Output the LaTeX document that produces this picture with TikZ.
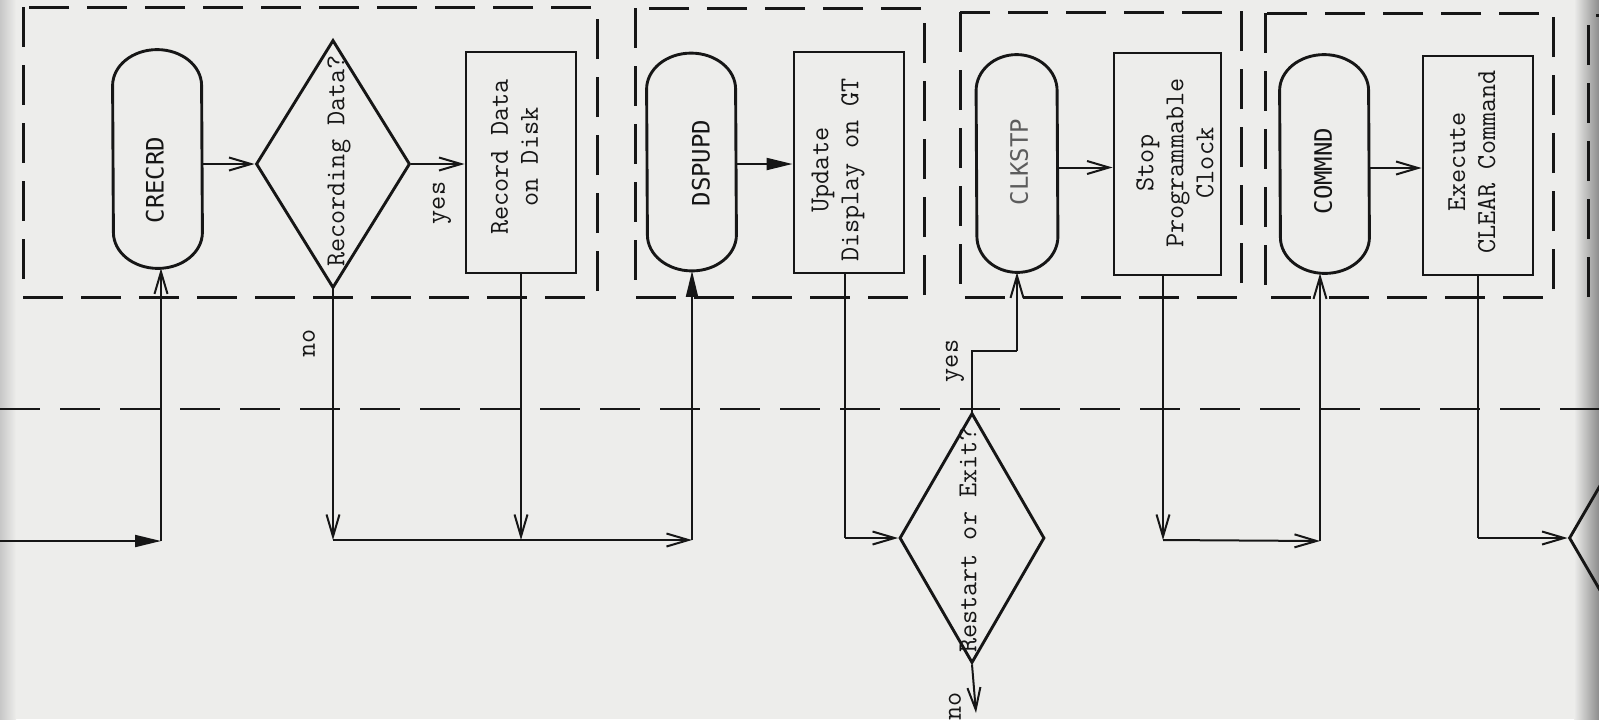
\documentclass[tikz,border=0pt]{standalone}
\usepackage{fontspec}
\newfontfamily\gothic{DejaVu Sans Mono}
\newcommand\typew{\ttfamily\addfontfeatures{FakeBold=1.6}}
\usetikzlibrary{shapes.geometric,arrows.meta,calc}
\definecolor{paper}{RGB}{237,237,235}
\definecolor{ink}{RGB}{22,22,22}
\newcommand\stadiumpath[2]{%
  \draw[shapeline] ($(#1.north west)+(0,-36)$) arc[start angle=180,end angle=0,x radius=#2,y radius=18pt]
    -- ($(#1.south east)+(0,36)$) arc[start angle=0,end angle=-180,x radius=#2,y radius=18pt] -- cycle;}
\begin{document}
\begin{tikzpicture}[x=0.5pt,y=0.5pt,
  shapeline/.style={draw=ink,line width=1.45pt},
  procbox/.style={rectangle,draw=ink,line width=1.45pt,inner sep=0pt},
  stadiumbox/.style={rectangle,draw=none,inner sep=0pt},
  decision/.style={diamond,draw=ink,line width=1.45pt,inner sep=0pt},
  dashbox/.style={draw=ink,line width=1.5pt,dash pattern=on 20pt off 9pt},
  sepline/.style={draw=ink,line width=1pt,dash pattern=on 20pt off 10pt},
  conn/.style={draw=ink,line width=1pt},
  openarrow/.style={conn,-{Straight Barb[length=11pt,width=6.5pt,line width=1pt]}},
  fillarrow/.style={conn,-{Triangle[length=13pt,width=6pt]}},
  desc/.style={font=\typew\fontsize{13.7}{15}\selectfont,align=center,rotate=90,inner sep=0pt,text=ink},
  subname/.style={font=\gothic\fontsize{12}{15}\selectfont,rotate=90,inner sep=0pt,text=ink},
  lbl/.style={font=\typew\fontsize{13.7}{15}\selectfont,rotate=90,inner sep=0pt,text=ink}]
\useasboundingbox (0,0) rectangle (1599,-719);
\fill[paper] (0,0) rectangle (1599,-719);
\shade[left color=black!22,right color=paper] (0,0) rectangle (16,-719);
\shade[left color=paper,right color=black!45] (1574,0) rectangle (1599,-719);

% dashed module frames
\draw[dashbox] (23,-7) rectangle (597,-297);
\draw[dashbox] (635,-8) rectangle (924,-297);
\draw[dashbox] (960,-12) rectangle (1241,-297);
\draw[dashbox] (1265,-13) rectangle (1553,-297);
\begin{scope}
\clip (0,0) rectangle (1599,-719);
\draw[dashbox] (1588,-297) -- (1588,-15) -- (1620,-15);
\end{scope}
% separating line
\draw[sepline] (0,-409) -- (1599,-409);

% nodes
\node[stadiumbox,minimum width=44.5pt,minimum height=109pt] (crecrd) at (157.5,-159) {};
\stadiumpath{crecrd}{22.25pt}
\node[subname] at (155,-180) {CRECRD};

\node[decision,minimum width=77pt,minimum height=124pt] (d1) at (333,-164) {};
\node[lbl] at (339,-161) {Recording Data?};

\node[procbox,minimum width=55pt,minimum height=110.5pt] (record) at (521,-162.5) {};
\node[desc] at (514.5,-157) {Record Data\\on Disk};

\node[stadiumbox,minimum width=44.5pt,minimum height=108.5pt] (dspupd) at (691.5,-162) {};
\stadiumpath{dspupd}{22.25pt}
\node[subname] at (701,-163) {DSPUPD};

\node[procbox,minimum width=55pt,minimum height=110.5pt] (update) at (849,-162.5) {};
\node[desc] at (838,-170) {Update\\Display on GT};

\node[stadiumbox,minimum width=40.5pt,minimum height=108.5pt] (clkstp) at (1017,-163.5) {};
\stadiumpath{clkstp}{20.25pt}
\node[subname,text=ink!70] at (1019,-162) {CLKSTP};

\node[procbox,minimum width=53.5pt,minimum height=111pt] (stop) at (1167.5,-164) {};
\node[desc] at (1175,-163) {Stop\\Programmable\\Clock};

\node[stadiumbox,minimum width=44.5pt,minimum height=109pt] (commnd) at (1324.5,-164) {};
\stadiumpath{commnd}{22.25pt}
\node[subname] at (1323,-171) {COMMND};

\node[procbox,minimum width=55pt,minimum height=109.5pt] (execute) at (1478,-165.5) {};
\node[desc] at (1472,-162) {Execute\\CLEAR Command};

\node[decision,minimum width=72.5pt,minimum height=125pt] (d2) at (972,-538) {};
\node[lbl] at (968,-540) {Restart or Exit?};

\begin{scope}
\clip (0,0) rectangle (1599,-719);
\node[decision,minimum width=73pt,minimum height=125pt] (d3) at (1642,-538) {};
\end{scope}

% junction coordinates
\coordinate (in0) at (0,-541);
\coordinate (c1) at (161,-541);
\coordinate (j1) at (333,-540);
\coordinate (j2) at (521,-540);
\coordinate (j3) at (692,-540);
\coordinate (j4) at (845,-538);
\coordinate (y1) at (972,-351);
\coordinate (y2) at (1017,-351);
\coordinate (n1) at (976,-713);
\coordinate (j5) at (1163,-540);
\coordinate (j6) at (1320,-541);
\coordinate (j7) at (1478,-538);

% connectors
\draw[fillarrow] (in0) -- (c1);
\draw[openarrow] (c1) -- (c1 |- crecrd.south);
\draw[openarrow] (d1.west -| crecrd.east) -- (d1.west);
\draw[openarrow] (d1.south) -- (j1);
\node[lbl] at (309,-343) {no};
\draw[openarrow] (d1.east) -- (d1.east -| record.west);
\node[lbl] at (442,-203) {yes};
\draw[openarrow] (record.south -| j2) -- (j2);
\draw[openarrow] (j1) -- (j3);
\draw[fillarrow] (j3) -- (j3 |- dspupd.south);
\draw[fillarrow] ([yshift=-1pt]dspupd.east) -- ([yshift=-1pt]dspupd.east -| update.west);
\draw[conn] (update.south -| j4) -- (j4);
\draw[openarrow] (j4) -- (d2.west);
\draw[conn] (d2.north) -- (y1) -- (y2);
\draw[openarrow] (y2) -- (y2 |- clkstp.south);
\node[lbl] at (955,-361) {yes};
\draw[openarrow] (d2.south) -- (n1);
\node[lbl] at (955,-706) {no};
\draw[openarrow] ([yshift=-2pt]clkstp.east) -- ([yshift=-2pt]clkstp.east -| stop.west);
\draw[openarrow] (stop.south -| j5) -- (j5);
\draw[openarrow] (j5) -- (j6);
\draw[openarrow] (j6) -- (j6 |- commnd.south);
\draw[openarrow] ([yshift=-2pt]commnd.east) -- ([yshift=-2pt]commnd.east -| execute.west);
\draw[conn] (execute.south -| j7) -- (j7);
\draw[openarrow] (j7) -- (d3.west);
\end{tikzpicture}
\end{document}
